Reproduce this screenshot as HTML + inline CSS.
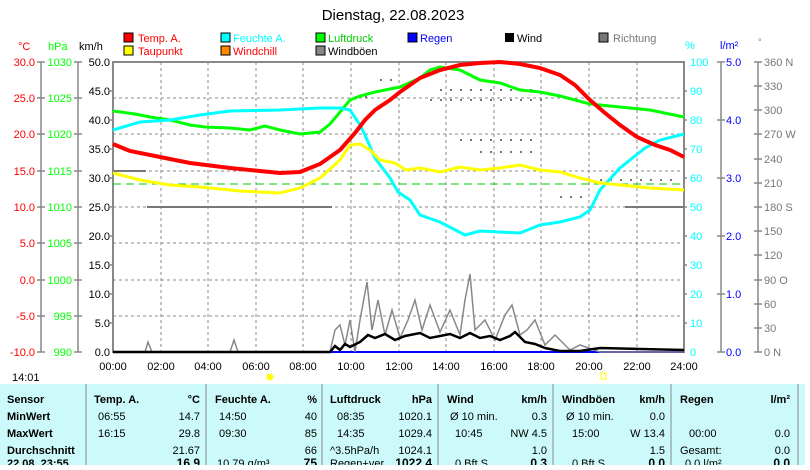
<!DOCTYPE html>
<html><head><meta charset="utf-8"><style>
body{margin:0;background:#fff;width:810px;height:465px;overflow:hidden;font-family:"Liberation Sans",sans-serif}
svg text{font-family:"Liberation Sans",sans-serif}
</style></head><body>
<svg width="810" height="465" xmlns="http://www.w3.org/2000/svg" font-size="11">
<text x="393" y="20" font-size="15" text-anchor="middle">Dienstag, 22.08.2023</text>
<g font-size="11">
<rect x="124" y="33" width="9" height="9" fill="#f00" stroke="#000"/><text x="138" y="42" fill="#f00">Temp. A.</text>
<rect x="124" y="46" width="9" height="9" fill="#ff0" stroke="#000"/><text x="138" y="55" fill="#f00">Taupunkt</text>
<rect x="221" y="33" width="9" height="9" fill="#0ff" stroke="#000"/><text x="233" y="42" fill="#0ff">Feuchte A.</text>
<rect x="221" y="46" width="9" height="9" fill="#f80" stroke="#000"/><text x="233" y="55" fill="#f00">Windchill</text>
<rect x="316" y="33" width="9" height="9" fill="#0f0" stroke="#000"/><text x="328" y="42" fill="#0c0">Luftdruck</text>
<rect x="316" y="46" width="9" height="9" fill="#888" stroke="#000"/><text x="328" y="55">Windböen</text>
<rect x="408" y="33" width="9" height="9" fill="#00f" stroke="#000"/><text x="420" y="42" fill="#00f">Regen</text>
<rect x="505" y="33" width="9" height="9" fill="#000"/><text x="517" y="42">Wind</text>
<rect x="599" y="33" width="9" height="9" fill="#777" stroke="#000"/><text x="613" y="42" fill="#777">Richtung</text>
</g>
<text x="18" y="50" fill="#f00">°C</text><text x="48" y="50" fill="#0f0">hPa</text><text x="79" y="50">km/h</text>
<text x="685" y="49" fill="#0ff">%</text><text x="720" y="49" fill="#00f">l/m²</text><text x="758" y="45" fill="#777" font-size="9">°</text>
<g stroke="#888" stroke-width="1.5" fill="none">
<path d="M41 62V352M78 62V352M721 62V352M758 62V352"/>
<path d="M37 62h8M37 98h8M37 134h8M37 171h8M37 207h8M37 243h8M37 280h8M37 316h8M37 352h8"/>
<path d="M74 62h8M74 98h8M74 134h8M74 171h8M74 207h8M74 243h8M74 280h8M74 316h8M74 352h8"/>
<path d="M717 62h8M717 120h8M717 178h8M717 236h8M717 294h8M717 352h8"/>
<path d="M754 62h8M754 86h8M754 110h8M754 134h8M754 159h8M754 183h8M754 207h8M754 231h8M754 255h8M754 280h8M754 304h8M754 328h8M754 352h8"/>
<path d="M684 91h3M684 120h3M684 149h3M684 178h3M684 207h3M684 236h3M684 265h3M684 294h3M684 323h3"/>
<path d="M110 91h3M110 120h3M110 149h3M110 178h3M110 207h3M110 236h3M110 265h3M110 294h3M110 323h3"/>
</g>
<g stroke="#888" stroke-dasharray="3,3" stroke-width="1">
<path d="M161 62V352M208 62V352M256 62V352M303 62V352M351 62V352M399 62V352M446 62V352M494 62V352M541 62V352M589 62V352M637 62V352"/>
<path d="M113 98H684M113 134H684M113 171H684M113 207H684M113 243H684M113 280H684M113 316H684"/>
</g>
<rect x="113" y="62" width="571" height="290" fill="none" stroke="#888" stroke-width="2"/>
<g font-size="11" text-anchor="end">
<g fill="#f00"><text x="35" y="66">30.0</text><text x="35" y="102">25.0</text><text x="35" y="138">20.0</text><text x="35" y="175">15.0</text><text x="35" y="211">10.0</text><text x="35" y="247">5.0</text><text x="35" y="284">0.0</text><text x="35" y="320">-5.0</text><text x="35" y="356">-10.0</text></g>
<g fill="#0f0"><text x="72" y="66">1030</text><text x="72" y="102">1025</text><text x="72" y="138">1020</text><text x="72" y="175">1015</text><text x="72" y="211">1010</text><text x="72" y="247">1005</text><text x="72" y="284">1000</text><text x="72" y="320">995</text><text x="72" y="356">990</text></g>
<g><text x="110" y="66">50.0</text><text x="110" y="95">45.0</text><text x="110" y="124">40.0</text><text x="110" y="153">35.0</text><text x="110" y="182">30.0</text><text x="110" y="211">25.0</text><text x="110" y="240">20.0</text><text x="110" y="269">15.0</text><text x="110" y="298">10.0</text><text x="110" y="327">5.0</text><text x="110" y="356">0.0</text></g>
</g>
<g fill="#0ff" font-size="11"><text x="690" y="66">100</text><text x="690" y="95">90</text><text x="690" y="124">80</text><text x="690" y="153">70</text><text x="690" y="182">60</text><text x="690" y="211">50</text><text x="690" y="240">40</text><text x="690" y="269">30</text><text x="690" y="298">20</text><text x="690" y="327">10</text><text x="690" y="356">0</text></g>
<g fill="#00f" font-size="11"><text x="726" y="66">5.0</text><text x="726" y="124">4.0</text><text x="726" y="182">3.0</text><text x="726" y="240">2.0</text><text x="726" y="298">1.0</text><text x="726" y="356">0.0</text></g>
<g fill="#777" font-size="11"><text x="764" y="66">360 N</text><text x="764" y="90">330</text><text x="764" y="114">300</text><text x="764" y="138">270 W</text><text x="764" y="163">240</text><text x="764" y="187">210</text><text x="764" y="211">180 S</text><text x="764" y="235">150</text><text x="764" y="259">120</text><text x="764" y="284">90  O</text><text x="764" y="308">60</text><text x="764" y="332">30</text><text x="764" y="356">0   N</text></g>
<g font-size="11" text-anchor="middle"><text x="113" y="370">00:00</text><text x="161" y="370">02:00</text><text x="208" y="370">04:00</text><text x="256" y="370">06:00</text><text x="303" y="370">08:00</text><text x="351" y="370">10:00</text><text x="399" y="370">12:00</text><text x="446" y="370">14:00</text><text x="494" y="370">16:00</text><text x="541" y="370">18:00</text><text x="589" y="370">20:00</text><text x="637" y="370">22:00</text><text x="684" y="370">24:00</text></g>
<path d="M113 184H684" stroke="#0c0" stroke-dasharray="8,5" stroke-width="1"/>
<path d="M113 171H146M147 207H332M625 207H684" stroke="#777" stroke-width="2"/>
<path d="M430 100h120M440 90h100M460 140h80M380 80h20M600 180h80M480 152h60M560 197h30M355 97h20" stroke="#777" stroke-width="2" stroke-dasharray="2,8"/>
<path d="M113 352H684" stroke="#00f" stroke-width="2"/>
<polyline fill="none" stroke="#888" stroke-width="1.5" points="113,352 145,352 148,342 152,352 230,352 234,340 238,352 330,352 335,330 340,325 345,345 350,320 355,352 360,320 367,282 372,330 378,300 385,335 392,310 400,338 408,320 415,300 422,330 430,305 440,332 450,310 460,335 465,300 470,274 475,330 485,320 495,340 505,315 512,305 520,335 527,330 535,320 545,345 555,335 570,350 580,345 600,352 684,352"/>
<polyline fill="none" stroke="#000" stroke-width="2.5" points="113,352 330,352 335,346 340,350 345,344 350,347 360,342 368,335 375,338 385,334 395,340 405,336 420,333 430,338 440,336 450,334 460,338 470,333 480,338 490,336 500,340 510,336 515,332 525,342 535,344 545,348 560,351 580,351 600,348 684,350"/>
<polyline fill="none" stroke="#0f0" stroke-width="3" points="113,111 135,114 150,117 170,120 190,125 205,127 230,128 250,130 265,126 280,130 300,134 320,132 330,124 340,112 350,100 360,96 375,92 400,87 420,78 430,70 440,67 460,70 480,80 500,83 520,90 540,92 560,96 590,104 620,107 650,110 684,117"/>
<polyline fill="none" stroke="#0ff" stroke-width="3" points="113,130 140,122 170,120 200,115 230,111 280,110 320,108 340,108 350,110 360,125 365,135 375,158 390,178 398,192 410,200 420,215 440,222 465,235 480,231 500,232 520,233 540,225 560,222 580,217 590,210 600,190 620,168 645,148 660,140 684,134"/>
<polyline fill="none" stroke="#ff0" stroke-width="3" points="113,173 140,180 170,185 200,187 240,191 260,192 280,193 300,188 320,178 340,160 350,145 360,144 370,150 380,160 395,163 406,170 420,168 440,172 460,167 480,170 500,168 520,165 540,170 560,172 580,178 600,183 620,185 650,188 684,190"/>
<polyline fill="none" stroke="#f00" stroke-width="4" points="113,144 130,151 160,157 190,163 230,168 260,171 280,173 300,172 320,164 340,150 355,133 365,120 375,110 390,100 400,92 420,78 440,70 460,65 480,63 500,62 520,64 540,68 560,75 575,85 590,100 605,113 620,125 637,137 655,145 670,150 684,157"/>
<text x="12" y="381" font-size="11">14:01</text>
<circle cx="270" cy="377" r="3.5" fill="#ff0"/><rect x="601" y="373" width="5" height="6" fill="none" stroke="#ff0"/>
<rect x="0" y="384" width="805" height="81" fill="#ccfafa"/>
<g stroke="#888"><path d="M86 384V465M206 384V465M322 384V465M438 384V465M553 384V465M671 384V465M798 384V465"/></g>
<g font-size="11" font-weight="bold"><text x="7" y="403">Sensor</text><text x="94" y="403">Temp. A.</text><text x="200" y="403" text-anchor="end">°C</text><text x="215" y="403">Feuchte A.</text><text x="317" y="403" text-anchor="end">%</text><text x="330" y="403">Luftdruck</text><text x="432" y="403" text-anchor="end">hPa</text><text x="447" y="403">Wind</text><text x="547" y="403" text-anchor="end">km/h</text><text x="562" y="403">Windböen</text><text x="665" y="403" text-anchor="end">km/h</text><text x="680" y="403">Regen</text><text x="790" y="403" text-anchor="end">l/m²</text>
<text x="7" y="420">MinWert</text><text x="7" y="437">MaxWert</text><text x="7" y="454">Durchschnitt</text><text x="7" y="467">22.08. 23:55</text></g>
<g font-size="11"><text x="98" y="420">06:55</text><text x="200" y="420" text-anchor="end">14.7</text><text x="219" y="420">14:50</text><text x="317" y="420" text-anchor="end">40</text><text x="337" y="420">08:35</text><text x="432" y="420" text-anchor="end">1020.1</text><text x="450" y="420">Ø 10 min.</text><text x="547" y="420" text-anchor="end">0.3</text><text x="566" y="420">Ø 10 min.</text><text x="665" y="420" text-anchor="end">0.0</text>
<text x="98" y="437">16:15</text><text x="200" y="437" text-anchor="end">29.8</text><text x="219" y="437">09:30</text><text x="317" y="437" text-anchor="end">85</text><text x="337" y="437">14:35</text><text x="432" y="437" text-anchor="end">1029.4</text><text x="455" y="437">10:45</text><text x="547" y="437" text-anchor="end">NW 4.5</text><text x="572" y="437">15:00</text><text x="665" y="437" text-anchor="end">W 13.4</text><text x="689" y="437">00:00</text><text x="790" y="437" text-anchor="end">0.0</text>
<text x="200" y="454" text-anchor="end">21.67</text><text x="317" y="454" text-anchor="end">66</text><text x="330" y="454">^3.5hPa/h</text><text x="432" y="454" text-anchor="end">1024.1</text><text x="547" y="454" text-anchor="end">1.0</text><text x="665" y="454" text-anchor="end">1.5</text><text x="680" y="454">Gesamt:</text><text x="790" y="454" text-anchor="end">0.0</text>
<text x="217" y="467">10.79 g/m³</text><text x="330" y="467">Regen+ver.</text><text x="455" y="467">0 Bft S</text><text x="572" y="467">0 Bft S</text><text x="685" y="467">0.0 l/m²</text></g>
<g font-size="12" font-weight="bold" text-anchor="end"><text x="200" y="467">16.9</text><text x="317" y="467">75</text><text x="432" y="467">1022.4</text><text x="547" y="467">0.3</text><text x="665" y="467">0.0</text><text x="790" y="467">0.0</text></g>
</svg>
</body></html>
